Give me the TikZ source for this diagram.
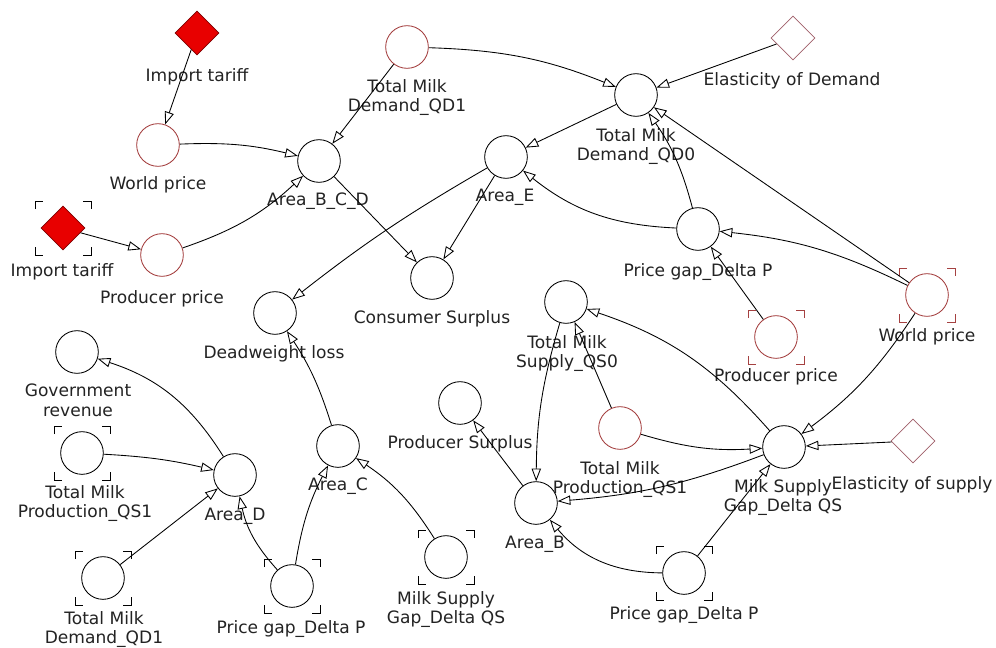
\documentclass[tikz,border=0pt]{standalone}
\usepackage{fontspec}
\setmainfont{DejaVu Sans}
\usetikzlibrary{arrows.meta,shapes.geometric}
\definecolor{ro}{RGB}{165,65,65}
\definecolor{rf}{RGB}{232,0,0}
\definecolor{rd}{RGB}{125,0,0}
\definecolor{eo}{RGB}{160,95,105}
\definecolor{txt}{RGB}{35,35,35}
\newcommand\ghostframe[2]{%
  \draw[#2,line width=0.75pt]
    ([shift={(-28,19)}]#1.center) -- ++(0,8) -- ++(8,0)
    ([shift={(20,27)}]#1.center) -- ++(8,0) -- ++(0,-8)
    ([shift={(-28,-19)}]#1.center) -- ++(0,-8) -- ++(8,0)
    ([shift={(20,-27)}]#1.center) -- ++(8,0) -- ++(0,8);}
\begin{document}
\begin{tikzpicture}[x=0.75pt,y=0.75pt,
  var/.style={circle,draw=black,line width=0.65pt,minimum size=32pt,inner sep=0pt,fill=white},
  rvar/.style={var,draw=ro},
  cst/.style={diamond,draw=rd,fill=rf,line width=0.6pt,minimum size=33pt,inner sep=0pt},
  ecst/.style={diamond,draw=eo,fill=white,line width=0.6pt,minimum size=33pt,inner sep=0pt},
  lab/.style={anchor=north,inner sep=0pt,align=center,text=txt,font=\fontsize{12.8pt}{14.6pt}\selectfont},
  link/.style={draw=black,line width=0.65pt,-{Triangle[open,length=9.5pt,width=7pt]}}]
\path[fill=white] (0,0) rectangle (996,-645);
% nodes
\node[cst] (it1) at (197,-33) {};
\node[rvar] (wp1) at (158,-145) {};
\node[cst] (it2) at (63,-228) {};
\node[rvar] (pp1) at (162,-255) {};
\node[var] (abcd) at (319,-161) {};
\node[rvar] (qd1) at (407,-47) {};
\node[var] (qd0) at (636,-95) {};
\node[ecst] (ed) at (793,-38) {};
\node[var] (ae) at (506,-157) {};
\node[var] (cs) at (432,-278) {};
\node[var] (pgu) at (698,-229) {};
\node[var] (dwl) at (275,-313) {};
\node[var] (sq0) at (566,-302) {};
\node[var] (ps) at (460,-403) {};
\node[rvar] (qs1r) at (620,-428) {};
\node[var] (ab) at (536,-503) {};
\node[var] (msgb) at (446,-557) {};
\node[var] (pgbr) at (684,-573) {};
\node[var] (msg) at (784,-447) {};
\node[ecst] (es) at (913,-441) {};
\node[rvar] (wpr) at (927,-295) {};
\node[rvar] (ppr) at (776,-337) {};
\node[var] (gr) at (77,-352) {};
\node[var] (qs1b) at (82,-453) {};
\node[var] (ad) at (235,-475) {};
\node[var] (qd1b) at (103,-578) {};
\node[var] (pgbl) at (292,-586) {};
\node[var] (ac) at (338,-446) {};
% ghost frames
\ghostframe{it2}{black}
\ghostframe{wpr}{ro}
\ghostframe{ppr}{ro}
\ghostframe{qs1b}{black}
\ghostframe{qd1b}{black}
\ghostframe{pgbl}{black}
\ghostframe{msgb}{black}
\ghostframe{pgbr}{black}
% labels
\node[lab] (it1l) at (197,-68) {Import tariff};
\node[lab] (wp1l) at (158,-176) {World price};
\node[lab] (it2l) at (62,-263) {Import tariff};
\node[lab] (pp1l) at (162,-290) {Producer price};
\node[lab] (abcdl) at (318,-193) {Area\_B\_C\_D};
\node[lab] (qd1l) at (407,-79) {Total Milk\\Demand\_QD1};
\node[lab] (qd0l) at (636,-128) {Total Milk\\Demand\_QD0};
\node[lab] (edl) at (792,-72) {Elasticity of Demand};
\node[lab] (ael) at (505,-189) {Area\_E};
\node[lab] (csl) at (432,-310) {Consumer Surplus};
\node[lab] (pgul) at (698,-263) {Price gap\_Delta P};
\node[lab] (dwll) at (274,-345) {Deadweight loss};
\node[lab] (sq0l) at (567,-335) {Total Milk\\Supply\_QS0};
\node[lab] (psl) at (460,-435) {Producer Surplus};
\node[lab] (qs1rl) at (620,-461) {Total Milk\\Production\_QS1};
\node[lab] (abl) at (535,-536) {Area\_B};
\node[lab] (msgbl) at (446,-591) {Milk Supply\\Gap\_Delta QS};
\node[lab] (pgbrl) at (684,-606) {Price gap\_Delta P};
\node[lab] (msgl) at (783,-479) {Milk Supply\\Gap\_Delta QS};
\node[lab] (esl) at (912,-476) {Elasticity of supply};
\node[lab] (wprl) at (927,-328) {World price};
\node[lab] (pprl) at (776,-368) {Producer price};
\node[lab] (grl) at (78,-384) {Government\\revenue};
\node[lab] (qs1bl) at (85,-485) {Total Milk\\Production\_QS1};
\node[lab] (adl) at (235,-508) {Area\_D};
\node[lab] (qd1bl) at (104,-611) {Total Milk\\Demand\_QD1};
\node[lab] (pgbll) at (291,-620) {Price gap\_Delta P};
\node[lab] (acl) at (338,-478) {Area\_C};
% connectors
\draw[link] (it1) -- (wp1);
\draw[link] (wp1) to[bend left=8] (abcd);
\draw[link] (it2) -- (pp1);
\draw[link] (pp1) to[bend right=12] (abcd);
\draw[link] (qd1) -- (abcd);
\draw[link] (qd1) to[bend left=10] (qd0);
\draw[link] (ed) -- (qd0);
\draw[link] (qd0) -- (ae);
\draw[link] (abcd) -- (cs);
\draw[link] (ae) -- (cs);
\draw[link] (ae) to[bend right=4] (dwl);
\draw[link] (pgu) to[bend left=18] (ae);
\draw[link] (pgu) to[bend right=10] (qd0);
\draw[link] (wpr) -- (qd0);
\draw[link] (wpr) to[bend right=10] (pgu);
\draw[link] (ppr) -- (pgu);
\draw[link] (wpr) to[bend left=10] (msg);
\draw[link] (es) -- (msg);
\draw[link] (msg) to[bend right=15] (sq0);
\draw[link] (qs1r) -- (sq0);
\draw[link] (sq0) to[bend right=8] (ab);
\draw[link] (ab) -- (ps);
\draw[link] (msg) to[bend left=8] (ab);
\draw[link] (qs1r) to[bend right=10] (msg);
\draw[link] (pgbr) to[bend left=25] (ab);
\draw[link] (pgbr) -- (msg);
\draw[link] (msgb) to[bend right=12] (ac);
\draw[link] (pgbl) to[bend left=9] (ac);
\draw[link] (pgbl) to[bend left=15] (ad);
\draw[link] (ac) to[bend right=8] (dwl);
\draw[link] (ad) to[bend right=20] (gr);
\draw[link] (qs1b) to[bend left=5] (ad);
\draw[link] (qd1b) -- (ad);
\end{tikzpicture}
\end{document}
